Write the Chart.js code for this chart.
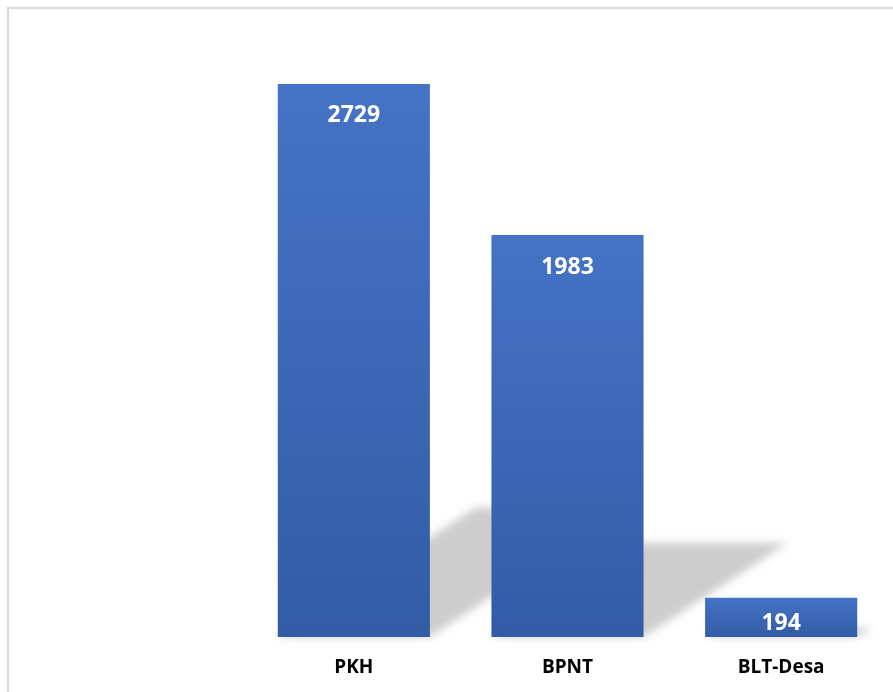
<!DOCTYPE html>
<html>
<head>
<meta charset="utf-8">
<script src="https://cdn.jsdelivr.net/npm/chart.js@4/dist/chart.umd.min.js"></script>
<style>
  html, body { margin: 0; padding: 0; background: #fff; }
  #wrap { position: relative; width: 893px; height: 692px; overflow: hidden; }
  #frame { position: absolute; left: 7px; top: 7px; width: 900px; height: 700px; border: 2px solid #d9d9d9; box-sizing: border-box; }
  canvas { position: absolute; left: 0; top: 0; }
</style>
</head>
<body>
<div id="wrap">
  <div id="frame"></div>
  <canvas id="c" width="893" height="692"></canvas>
</div>
<script>
const categories = ["PKH", "BPNT", "BLT-Desa"];
const values = [2729, 1983, 194];
const yMax = 3000;

const shadowPlugin = {
  id: 'perspectiveShadow',
  beforeDatasetsDraw(chart) {
    const ctx = chart.ctx;
    const meta = chart.getDatasetMeta(0);
    ctx.save();
    ctx.filter = 'blur(4px)';
    ctx.fillStyle = 'rgba(200,200,200,0.9)';
    meta.data.forEach(bar => {
      const p = bar.getProps(['x', 'y', 'base', 'width'], true);
      const left = p.x - p.width / 2, right = p.x + p.width / 2;
      const h = p.base - p.y;
      const dx = h * 0.358, dy = h * 0.234;
      ctx.beginPath();
      ctx.moveTo(left, p.base);
      ctx.lineTo(left + dx, p.base - dy);
      ctx.lineTo(right + dx, p.base - dy);
      ctx.lineTo(right, p.base);
      ctx.closePath();
      ctx.fill();
    });
    ctx.restore();
  }
};

const labelPlugin = {
  id: 'valueLabels',
  afterDatasetsDraw(chart) {
    const ctx = chart.ctx;
    const meta = chart.getDatasetMeta(0);
    ctx.save();
    ctx.fillStyle = '#ffffff';
    ctx.font = 'bold 23px "Open Sans", sans-serif';
    ctx.textAlign = 'center';
    ctx.textBaseline = 'middle';
    meta.data.forEach((bar, i) => {
      const p = bar.getProps(['x', 'y', 'base'], true);
      const h = p.base - p.y;
      const off = Math.min(32, h * 0.5 + 6.5);
      ctx.fillText(String(values[i]), p.x, p.y + off);
    });
    ctx.restore();
  }
};

function barGradient(context) {
  const chart = context.chart;
  const ys = chart.scales && chart.scales.y;
  if (!ys || context.dataIndex === undefined) return '#4472C4';
  const top = ys.getPixelForValue(values[context.dataIndex]);
  const base = ys.getPixelForValue(0);
  if (!isFinite(top) || !isFinite(base) || top === base) return '#4472C4';
  const g = chart.ctx.createLinearGradient(0, top, 0, base);
  g.addColorStop(0, '#4573C5');
  g.addColorStop(1, '#325CA6');
  return g;
}

new Chart(document.getElementById('c'), {
  type: 'bar',
  data: {
    labels: categories,
    datasets: [{
      data: values,
      backgroundColor: barGradient,
      borderWidth: 0,
      barPercentage: 0.712,
      categoryPercentage: 1.0
    }]
  },
  options: {
    responsive: false,
    animation: false,
    maintainAspectRatio: false,
    layout: { padding: { left: 247, right: 5, top: 29, bottom: 13 } },
    plugins: { legend: { display: false }, tooltip: { enabled: false } },
    scales: {
      y: { display: false, min: 0, max: yMax },
      x: {
        grid: { display: false, drawTicks: false },
        border: { display: false },
        afterFit(scale) { scale.height = 42; },
        ticks: {
          color: '#000000',
          padding: 19,
          font: { family: '"Open Sans", sans-serif', size: 19, weight: 'bold' }
        }
      }
    }
  },
  plugins: [shadowPlugin, labelPlugin]
});
</script>
</body>
</html>
